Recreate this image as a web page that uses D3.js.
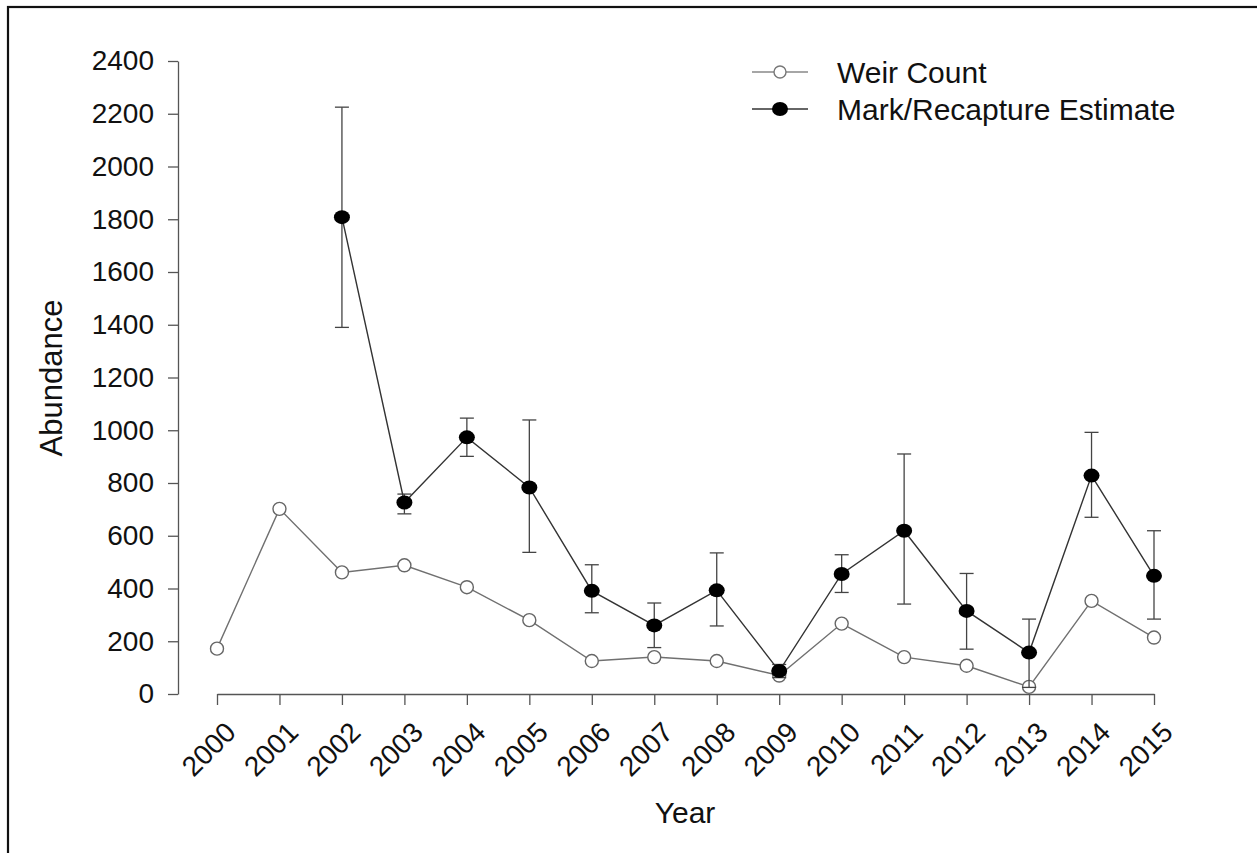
<!DOCTYPE html>
<html>
<head>
<meta charset="utf-8">
<script src="https://cdn.jsdelivr.net/npm/d3@7"></script>
<style>
  html, body { margin: 0; padding: 0; background: #fff; }
  svg { display: block; font-family: "Liberation Sans", Arial, sans-serif; }
</style>
</head>
<body>
<div id="chart"></div>
<script>
// Data
const years = [2000, 2001, 2002, 2003, 2004, 2005, 2006, 2007, 2008, 2009, 2010, 2011, 2012, 2013, 2014, 2015];
const weirCount = [172, 702, 461, 488, 405, 280, 125, 140, 125, 70, 267, 140, 107, 27, 353, 214];

const mrYears = [2002, 2003, 2004, 2005, 2006, 2007, 2008, 2009, 2010, 2011, 2012, 2013, 2014, 2015];
const mrEstimate = [1808, 726, 973, 783, 391, 260, 393, 87, 455, 619, 315, 157, 828, 448];
const mrLower = [1390, 683, 901, 537, 308, 176, 258, 62, 385, 341, 170, 25, 670, 284];
const mrUpper = [2225, 758, 1046, 1039, 490, 345, 535, 112, 528, 910, 457, 284, 992, 619];

const yTicks = [0, 200, 400, 600, 800, 1000, 1200, 1400, 1600, 1800, 2000, 2200, 2400];
const legendLabels = ['Weir Count', 'Mark/Recapture Estimate'];

const width = 1257, height = 853;

const svg = d3.select('#chart')
  .append('svg')
  .attr('width', width)
  .attr('height', height);

// frame of the figure (only top and left edges show)
svg.append('rect')
  .attr('x', 8).attr('y', 7)
  .attr('width', 1270).attr('height', 870)
  .attr('fill', 'none')
  .attr('stroke', '#111')
  .attr('stroke-width', 2.2);

const x = d3.scaleLinear().domain([2000, 2015]).range([217, 1154]);
const y = d3.scaleLinear().domain([0, 2400]).range([694, 61]);

// Y axis
const yAxis = svg.append('g')
  .attr('transform', 'translate(178,0)')
  .call(d3.axisLeft(y).tickValues(yTicks).tickFormat(d3.format('d'))
    .tickSize(10).tickSizeOuter(0).tickPadding(14));
yAxis.select('.domain').attr('stroke', '#555').attr('stroke-width', 1.3);
yAxis.selectAll('.tick line').attr('stroke', '#555').attr('stroke-width', 1.3);
yAxis.selectAll('.tick text')
  .attr('fill', '#111')
  .style('font-size', '28px');

// X axis
const xAxis = svg.append('g')
  .attr('transform', 'translate(0,694)')
  .call(d3.axisBottom(x).tickValues(years).tickFormat(d3.format('d')).tickSize(11).tickSizeOuter(0));
xAxis.select('.domain').attr('stroke', '#555').attr('stroke-width', 1.3);
xAxis.selectAll('.tick line').attr('stroke', '#555').attr('stroke-width', 1.3);
xAxis.selectAll('.tick text')
  .attr('fill', '#111')
  .attr('x', 0).attr('y', 0)
  .attr('dy', '0.35em')
  .attr('transform', 'translate(13,33) rotate(-45)')
  .style('text-anchor', 'end')
  .style('font-size', '28px');

// Axis titles
svg.append('text')
  .attr('transform', 'translate(62,378) rotate(-90)')
  .attr('text-anchor', 'middle')
  .style('font-size', '31px')
  .attr('fill', '#111')
  .text('Abundance');

svg.append('text')
  .attr('x', 685).attr('y', 823)
  .attr('text-anchor', 'middle')
  .style('font-size', '30px')
  .attr('fill', '#111')
  .text('Year');

// Weir count series
const weirData = years.map((yr, i) => ({ year: yr, value: weirCount[i] }));
const line = d3.line().x(d => x(d.year)).y(d => y(d.value));

svg.append('path')
  .datum(weirData)
  .attr('d', line)
  .attr('fill', 'none')
  .attr('stroke', '#707070')
  .attr('stroke-width', 1.4);

svg.selectAll('.weir-pt')
  .data(weirData)
  .enter()
  .append('circle')
  .attr('class', 'weir-pt')
  .attr('cx', d => x(d.year))
  .attr('cy', d => y(d.value))
  .attr('r', 6.5)
  .attr('fill', '#fff')
  .attr('stroke', '#666')
  .attr('stroke-width', 1.4);

// Mark/Recapture series with error bars
const mrData = mrYears.map((yr, i) => ({
  year: yr, value: mrEstimate[i], lo: mrLower[i], hi: mrUpper[i]
}));

const bars = svg.selectAll('.err')
  .data(mrData)
  .enter()
  .append('g')
  .attr('class', 'err')
  .attr('stroke', '#444')
  .attr('stroke-width', 1.3);

bars.append('line')
  .attr('x1', d => x(d.year)).attr('x2', d => x(d.year))
  .attr('y1', d => y(d.lo)).attr('y2', d => y(d.hi));
bars.append('line')
  .attr('x1', d => x(d.year) - 7).attr('x2', d => x(d.year) + 7)
  .attr('y1', d => y(d.hi)).attr('y2', d => y(d.hi));
bars.append('line')
  .attr('x1', d => x(d.year) - 7).attr('x2', d => x(d.year) + 7)
  .attr('y1', d => y(d.lo)).attr('y2', d => y(d.lo));

svg.append('path')
  .datum(mrData)
  .attr('d', line)
  .attr('fill', 'none')
  .attr('stroke', '#333')
  .attr('stroke-width', 1.4);

svg.selectAll('.mr-pt')
  .data(mrData)
  .enter()
  .append('ellipse')
  .attr('class', 'mr-pt')
  .attr('cx', d => x(d.year))
  .attr('cy', d => y(d.value))
  .attr('rx', 8)
  .attr('ry', 7)
  .attr('fill', '#000');

// Legend
const legend = svg.append('g').attr('transform', 'translate(752,0)');
const legendY = [72, 109];

legendLabels.forEach((label, i) => {
  const g = legend.append('g').attr('transform', `translate(0,${legendY[i]})`);
  g.append('line')
    .attr('x1', 0).attr('x2', 56)
    .attr('y1', 0).attr('y2', 0)
    .attr('stroke', i === 0 ? '#888' : '#333')
    .attr('stroke-width', 1.4);
  if (i === 0) {
    g.append('circle')
      .attr('cx', 28).attr('cy', 0).attr('r', 6)
      .attr('fill', '#fff').attr('stroke', '#777').attr('stroke-width', 1.4);
  } else {
    g.append('ellipse')
      .attr('cx', 28).attr('cy', 0).attr('rx', 8).attr('ry', 7)
      .attr('fill', '#000');
  }
  g.append('text')
    .attr('x', 85).attr('y', 11)
    .style('font-size', '30px')
    .attr('fill', '#111')
    .text(label);
});
</script>
</body>
</html>
